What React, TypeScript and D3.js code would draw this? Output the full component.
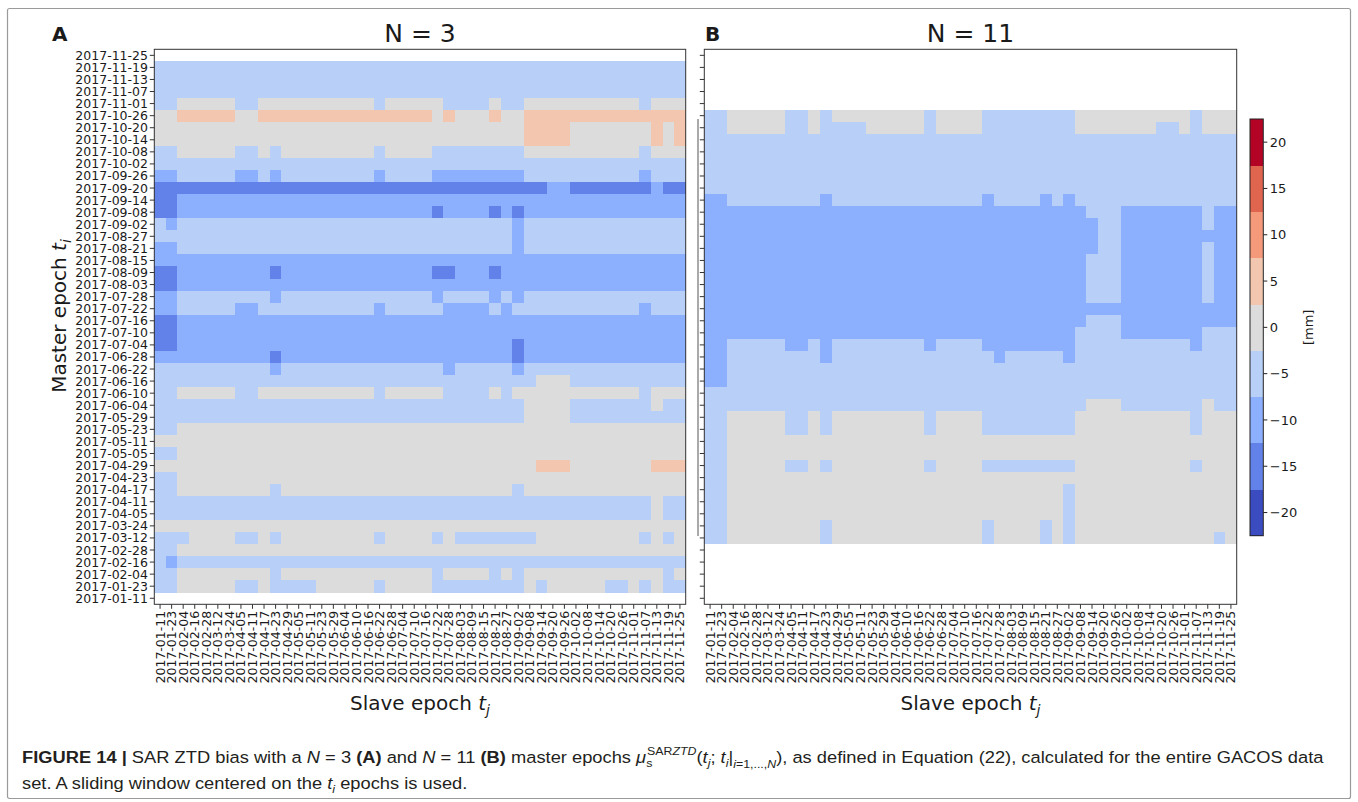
import React, { useLayoutEffect, useRef, useState } from "react";
import * as d3 from "d3";

// ---------------- DATA ----------------
const slaveEpochs = [
  "2017-01-11", "2017-01-23", "2017-02-04", "2017-02-16", "2017-02-28", "2017-03-12",
  "2017-03-24", "2017-04-05", "2017-04-11", "2017-04-17", "2017-04-23", "2017-04-29",
  "2017-05-05", "2017-05-11", "2017-05-23", "2017-05-29", "2017-06-04", "2017-06-10",
  "2017-06-16", "2017-06-22", "2017-06-28", "2017-07-04", "2017-07-10", "2017-07-16",
  "2017-07-22", "2017-07-28", "2017-08-03", "2017-08-09", "2017-08-15", "2017-08-21",
  "2017-08-27", "2017-09-02", "2017-09-08", "2017-09-14", "2017-09-20", "2017-09-26",
  "2017-10-02", "2017-10-08", "2017-10-14", "2017-10-20", "2017-10-26", "2017-11-01",
  "2017-11-07", "2017-11-13", "2017-11-19", "2017-11-25",
];
// master epochs, listed top row -> bottom row
const masterEpochs = [...slaveEpochs].reverse();

// cell codes -> bias value [mm] ('.' = no data)
const levelValues: Record<string, number | null> = {
  D: -15, M: -10, L: -5, G: 0, S: 5, ".": null,
};

// N = 3 : one string per master epoch (top 2017-11-25 -> bottom 2017-01-11), one char per slave epoch
const biasN3 = [
  ".......... .......... .......... .......... ......",
  "LLLLLLLLLL LLLLLLLLLL LLLLLLLLLL LLLLLLLLLL LLLLLL",
  "LLLLLLLLLL LLLLLLLLLL LLLLLLLLLL LLLLLLLLLL LLLLLL",
  "LLLLLLLLLL LLLLLLLLLL LLLLLLLLLL LLLLLLLLLL LLLLLL",
  "LL GGGGG LL GGGGGGGGGG L GGGGG LLLL G LL GGGGGGGGGG L GGG",
  "GG SSSSS GG SSSSSSSSSS SSSSS G S GGG S GG SSSSSSSSSS SSSS",
  "GGGGGGGGGG GGGGGGGGGG GGGGGGGGGG GG SSSS GGGGGGG S G S",
  "GGGGGGGGGG GGGGGGGGGG GGGGGGGGGG GG SSSS GGGGGGG S G S",
  "LL GGGGG LL G L GGGGGGGG L GGGG LLLLLLLL GGGGGGGGGG L GGG",
  "LLLLLLLLLL LLLLLLLLLL LLLLLLLLLL LLLLLLLLLL LLLLLL",
  "MM LLLLL MM L M LLLLLLLL M LLLL MMMMMMMM LLLLLLLLLL M LLL",
  "DDDDDDDDDD DDDDDDDDDD DDDDDDDDDD DDDD MM DDDDDDD M DD",
  "DD MMMMMMMMMM MMMMMMMMMM MMMMMMMMMM MMMMMMMMMM MMMM",
  "DD MMMMMMMMMM MMMMMMMMMM MM D MMMM D M D MMMMMMMMMM MMMM",
  "L M LLLLLLLLLL LLLLLLLLLL LLLLLLLLL M LLLLLLLLLL LLLL",
  "LLLLLLLLLL LLLLLLLLLL LLLLLLLLLL L M LLLLLLLLLL LLLL",
  "MM LLLLLLLLLL LLLLLLLLLL LLLLLLLLL M LLLLLLLLLL LLLL",
  "MMMMMMMMMM MMMMMMMMMM MMMMMMMMMM MMMMMMMMMM MMMMMM",
  "DD MMMMMMMM D MMMMMMMMMM MMM DD MMM D MMMMMMMMMM MMMMMM",
  "DD MMMMMMMMMM MMMMMMMMMM MMMMMMMMMM MMMMMMMMMM MMMM",
  "MM LLLLLLLL M LLLLLLLLLL LLL M LLLL M L M LLLLLLLLLL LLLL",
  "MM LLLLL MM LLLLLLLLLL M LLLLL MMMM L M LLLLLLLLLL L M LLL",
  "DD MMMMMMMMMM MMMMMMMMMM MMMMMMMMMM MMMMMMMMMM MMMM",
  "DD MMMMMMMMMM MMMMMMMMMM MMMMMMMMMM MMMMMMMMMM MMMM",
  "DD MMMMMMMMMM MMMMMMMMMM MMMMMMMMM D MMMMMMMMMM MMMM",
  "MMMMMMMMMM D MMMMMMMMMM MMMMMMMMMM D MMMMMMMMMM MMMM",
  "LLLLLLLLLL M LLLLLLLLLL LLLL M LLLLL M LLLLLLLLLL LLLL",
  "LLLLLLLLLL LLLLLLLLLL LLLLLLLLLL LLL GGG LLLLLLLLLL",
  "LL GGGGG LL GGGGGGGGGG L GGGGG LLLL G L GGGGGGGGGG G L GGG",
  "LLLLLLLLLL LLLLLLLLLL LLLLLLLLLL LL GGGG LLLLLLL G LL",
  "LLLLLLLLLL LLLLLLLLLL LLLLLLLLLL LL GGGG LLLLLLLLLL",
  "LL GGGGGGGGGG GGGGGGGGGG GGGGGGGGGG GGGGGGGGGG GGGG",
  "GGGGGGGGGG GGGGGGGGGG GGGGGGGGGG GGGGGGGGGG GGGGGG",
  "LL GGGGGGGGGG GGGGGGGGGG GGGGGGGGGG GGGGGGGGGG GGGG",
  "GGGGGGGGGG GGGGGGGGGG GGGGGGGGGG GGG SSS GGGGGGG SSS",
  "LL GGGGGGGGGG GGGGGGGGGG GGGGGGGGGG GGGGGGGGGG GGGG",
  "LL GGGGGGGG L GGGGGGGGGG GGGGGGGGGG L GGGGGGGGGG GGGG",
  "LLLLLLLLLL LLLLLLLLLL LLLLLLLLLL LLLLLLLLLL LLL G LL",
  "LLLLLLLLLL LLLLLLLLLL LLLLLLLLLL LLLLLLLLLL LLL G LL",
  "GGGGGGGGGG GGGGGGGGGG GGGGGGGGGG GGGGGGGGGG GGGGGG",
  "LLL GGGG LL G L GGGGGGGG L GGGG L G LLLLLLL GGGGGGGGG L G L G",
  "LL GGGGGGGGGG GGGGGGGGGG GGGGGGGGGG GGGGGGGGGG GGGG",
  "L M LLLLLLLLLL LLLLLLLLLL LLLLLLLLLL LLLLLLLLLL LLLL",
  "LL GGGGGGGG L GGGGGGGGGG GGG L GGGG L G L GGGGGGGGGG GG L G",
  "LL GGGGG LL G LLLL GGGGG L GGGG LLLLLLLL G L GGGGG LL G L G LL",
  ".......... .......... .......... .......... ......",
];

// N = 11
const biasN11 = [
  ".......... .......... .......... .......... ......",
  ".......... .......... .......... .......... ......",
  ".......... .......... .......... .......... ......",
  ".......... .......... .......... .......... ......",
  ".......... .......... .......... .......... ......",
  "LL GGGGG LL G L GGGGGGGG L GGGG LLLLLLLL GGGGGGGGGG L GGG",
  "LL GGGGG LL G LLLL GGGGG L GGGG LLLLLLLL GGGGGGG LL G L GGG",
  "LLLLLLLLLL LLLLLLLLLL LLLLLLLLLL LLLLLLLLLL LLLLLL",
  "LLLLLLLLLL LLLLLLLLLL LLLLLLLLLL LLLLLLLLLL LLLLLL",
  "LLLLLLLLLL LLLLLLLLLL LLLLLLLLLL LLLLLLLLLL LLLLLL",
  "LLLLLLLLLL LLLLLLLLLL LLLLLLLLLL LLLLLLLLLL LLLLLL",
  "LLLLLLLLLL LLLLLLLLLL LLLLLLLLLL LLLLLLLLLL LLLLLL",
  "MM LLLLLLLL M LLLLLLLLLL LLL M LLLL M L M LLLLLLLLLL LLLL",
  "MMMMMMMMMM MMMMMMMMMM MMMMMMMMMM MMM LLL MMMMMMM L MM",
  "MMMMMMMMMM MMMMMMMMMM MMMMMMMMMM MMMM LL MMMMMMM L MM",
  "MMMMMMMMMM MMMMMMMMMM MMMMMMMMMM MMMM LL MMMMMMMMMM",
  "MMMMMMMMMM MMMMMMMMMM MMMMMMMMMM MMMM LL MMMMMMM L MM",
  "MMMMMMMMMM MMMMMMMMMM MMMMMMMMMM MMM LLL MMMMMMM L MM",
  "MMMMMMMMMM MMMMMMMMMM MMMMMMMMMM MMM LLL MMMMMMM L MM",
  "MMMMMMMMMM MMMMMMMMMM MMMMMMMMMM MMM LLL MMMMMMM L MM",
  "MMMMMMMMMM MMMMMMMMMM MMMMMMMMMM MMM LLL MMMMMMM L MM",
  "MMMMMMMMMM MMMMMMMMMM MMMMMMMMMM MMMMMMMMMM MMMMMM",
  "MMMMMMMMMM MMMMMMMMMM MMMMMMMMMM MMM LLL MMMMMMMMMM",
  "MMMMMMMMMM MMMMMMMMMM MMMMMMMMMM MM LLLL MMMMMMM LLL",
  "MM LLLLL MM L M LLLLLLLL M LLLL MMMMMMMM LLLLLLLLLL M LLL",
  "MM LLLLLLLL M LLLLLLLLLL LLLL M LLLLL M LLLLLLLLLL LLLL",
  "MM LLLLLLLLLL LLLLLLLLLL LLLLLLLLLL LLLLLLLLLL LLLL",
  "MM LLLLLLLLLL LLLLLLLLLL LLLLLLLLLL LLLLLLLLLL LLLL",
  "LLLLLLLLLL LLLLLLLLLL LLLLLLLLLL LLLLLLLLLL LLLLLL",
  "LLLLLLLLLL LLLLLLLLLL LLLLLLLLLL LLL GGG LLLLLLL G LL",
  "LL GGGGG LL G L GGGGGGGG L GGGG LLLLLLLL GGGGGGGGGG L GGG",
  "LL GGGGG LL G L GGGGGGGG L GGGG LLLLLLLL GGGGGGGGGG L GGG",
  "LL GGGGGGGGGG GGGGGGGGGG GGGGGGGGGG GGGGGGGGGG GGGG",
  "LL GGGGGGGGGG GGGGGGGGGG GGGGGGGGGG GGGGGGGGGG GGGG",
  "LL GGGGG LL G L GGGGGGGG L GGGG LLLLLLLL GGGGGGGGGG L GGG",
  "LL GGGGGGGGGG GGGGGGGGGG GGGGGGGGGG GGGGGGGGGG GGGG",
  "LL GGGGGGGGGG GGGGGGGGGG GGGGGGGGG L GGGGGGGGGG GGGG",
  "LL GGGGGGGGGG GGGGGGGGGG GGGGGGGGG L GGGGGGGGGG GGGG",
  "LL GGGGGGGGGG GGGGGGGGGG GGGGGGGGG L GGGGGGGGGG GGGG",
  "LL GGGGGGGG L GGGGGGGGGG GGG L GGGG L G L GGGGGGGGGG GGGG",
  "LL GGGGGGGG L GGGGGGGGGG GGG L GGGG L G L GGGGGGGGGG GG L G",
  ".......... .......... .......... .......... ......",
  ".......... .......... .......... .......... ......",
  ".......... .......... .......... .......... ......",
  ".......... .......... .......... .......... ......",
  ".......... .......... .......... .......... ......",
];

const colorBounds = [-22.5, -17.5, -12.5, -7.5, -2.5, 2.5, 7.5, 12.5, 17.5, 22.5];
const colorbarColors = [
  "#3b4cc0", "#6282ea", "#8db0fe", "#b8cff8", "#dcdcdc",
  "#f3c6af", "#f4997a", "#e0654f", "#b40426",
];
const colorbarTicks = [-20, -15, -10, -5, 0, 5, 10, 15, 20];

// ---------------- LAYOUT ----------------
const W = 1358;
const H = 802;
const FONT = "'DejaVu Sans', Verdana, sans-serif";
const CAP_FONT = "'Liberation Sans Narrow', 'Liberation Sans', Arial, sans-serif";
const Y0 = 49.3;
const Y1 = 604.3;
const TXT = "#1a1a1a";
const TICK_FS = 12.5;

const color = d3
  .scaleThreshold<number, string>()
  .domain(colorBounds.slice(1, -1))
  .range(colorbarColors);

function parseRow(row: string): (number | null)[] {
  return row.replace(/ /g, "").split("").map((ch) => levelValues[ch] ?? null);
}

type PanelProps = {
  rows: string[];
  x0: number;
  x1: number;
  letter: string;
  letterX: number;
  title: string;
  showYLabels: boolean;
};

function Panel({ rows, x0, x1, letter, letterX, title, showYLabels }: PanelProps) {
  const x = d3.scaleBand<string>().domain(slaveEpochs).range([x0, x1]);
  const y = d3.scaleBand<string>().domain(masterEpochs).range([Y0, Y1]);
  const bw = x.bandwidth();
  const bh = y.bandwidth();
  const cx = (x0 + x1) / 2;
  const tick = 4.5;

  const cells: JSX.Element[] = [];
  rows.forEach((row, i) => {
    const vals = parseRow(row);
    vals.forEach((v, j) => {
      if (v === null || j >= slaveEpochs.length) return;
      cells.push(
        <rect
          key={`${i}-${j}`}
          x={x(slaveEpochs[j])}
          y={y(masterEpochs[i])}
          width={bw + 0.3}
          height={bh + 0.3}
          fill={color(v)}
        />
      );
    });
  });

  return (
    <g>
      <text x={letterX} y={41} fontFamily={FONT} fontWeight="bold" fontSize={20} fill={TXT}>
        {letter}
      </text>
      <text x={cx} y={42.3} fontFamily={FONT} fontSize={25} textAnchor="middle" fill={TXT}>
        {title}
      </text>
      <g shapeRendering="crispEdges">{cells}</g>
      <rect x={x0} y={Y0} width={x1 - x0} height={Y1 - Y0} fill="none" stroke="#333" strokeWidth={1} />
      {/* y ticks */}
      {masterEpochs.map((d) => {
        const yy = (y(d) as number) + bh / 2;
        return (
          <g key={d}>
            <line x1={x0 - tick} x2={x0} y1={yy} y2={yy} stroke="#333" strokeWidth={1} />
            {showYLabels && (
              <text x={x0 - tick - 1.8} y={yy} dy="0.36em" textAnchor="end" fontFamily={FONT} fontSize={TICK_FS} fill={TXT}>
                {d}
              </text>
            )}
          </g>
        );
      })}
      {/* x ticks */}
      {slaveEpochs.map((d) => {
        const xx = (x(d) as number) + bw / 2;
        return (
          <g key={d}>
            <line x1={xx} x2={xx} y1={Y1} y2={Y1 + tick} stroke="#333" strokeWidth={1} />
            <text
              transform={`translate(${xx},${Y1 + tick + 2}) rotate(-90)`}
              dy="0.36em"
              textAnchor="end"
              fontFamily={FONT}
              fontSize={TICK_FS}
              fill={TXT}
            >
              {d}
            </text>
          </g>
        );
      })}
      <text x={cx} y={710} textAnchor="middle" fontFamily={FONT} fontSize={20} fill={TXT}>
        Slave epoch <tspan fontStyle="italic">t</tspan>
        <tspan fontStyle="italic" fontSize={14} dy={5}>j</tspan>
      </text>
    </g>
  );
}

function Colorbar() {
  const cx0 = 1250;
  const cw = 13.3;
  const yb = d3.scaleLinear().domain([-22.5, 22.5]).range([535.7, 119]);
  return (
    <g>
      <g shapeRendering="crispEdges">
        {colorbarColors.map((c, i) => (
          <rect
            key={c}
            x={cx0}
            y={yb(colorBounds[i + 1])}
            width={cw}
            height={yb(colorBounds[i]) - yb(colorBounds[i + 1]) + 0.3}
            fill={c}
          />
        ))}
      </g>
      <rect x={cx0} y={yb(22.5)} width={cw} height={yb(-22.5) - yb(22.5)} fill="none" stroke="#222" strokeWidth={1} />
      {colorbarTicks.map((t) => (
        <g key={t}>
          <line x1={cx0 + cw} x2={cx0 + cw + 4} y1={yb(t)} y2={yb(t)} stroke="#222" strokeWidth={1} />
          <text x={cx0 + cw + 6.5} y={yb(t)} dy="0.36em" fontFamily={FONT} fontSize={13} fill={TXT}>
            {t < 0 ? `\u2212${Math.abs(t)}` : `${t}`}
          </text>
        </g>
      ))}
      <text transform={`translate(1313,${yb(0)}) rotate(-90)`} textAnchor="middle" fontFamily={FONT} fontSize={13} fill={TXT}>
        [mm]
      </text>
    </g>
  );
}

function Caption() {
  const ref = useRef<SVGTextElement>(null);
  const [scale, setScale] = useState(1);
  useLayoutEffect(() => {
    if (ref.current) {
      const w = ref.current.getComputedTextLength();
      if (w > 0) setScale(1308 / w);
    }
  }, []);
  const fs = 17;
  const sfs = 11.5;
  return (
    <g transform={`translate(22,0) scale(${scale},1)`} fontFamily={CAP_FONT} fontSize={fs} fill="#231f20">
      <text ref={ref} x={0} y={763}>
        <tspan fontWeight="bold">FIGURE 14 |</tspan>
        <tspan>{" SAR ZTD bias with a "}</tspan>
        <tspan fontStyle="italic">N</tspan>
        <tspan>{" = 3 "}</tspan>
        <tspan fontWeight="bold">(A)</tspan>
        <tspan>{" and "}</tspan>
        <tspan fontStyle="italic">N</tspan>
        <tspan>{" = 11 "}</tspan>
        <tspan fontWeight="bold">(B)</tspan>
        <tspan>{" master epochs "}</tspan>
        <tspan fontStyle="italic">μ</tspan>
        <tspan fontSize={sfs} dy={4}>s</tspan>
        <tspan fontSize={sfs} dx={-5} dy={-12}>SAR</tspan>
        <tspan fontSize={sfs} fontStyle="italic">ZTD</tspan>
        <tspan dy={8}>(</tspan>
        <tspan fontStyle="italic">t</tspan>
        <tspan fontSize={sfs} fontStyle="italic" dy={4}>j</tspan>
        <tspan dy={-4}>{"; "}</tspan>
        <tspan fontStyle="italic">t</tspan>
        <tspan fontSize={sfs} fontStyle="italic" dy={4}>i</tspan>
        <tspan dy={-4}>|</tspan>
        <tspan fontSize={sfs} fontStyle="italic" dy={5}>i</tspan>
        <tspan fontSize={sfs}>=1,...,</tspan>
        <tspan fontSize={sfs} fontStyle="italic">N</tspan>
        <tspan dy={-5}>{"), as defined in Equation (22), calculated for the entire GACOS data"}</tspan>
      </text>
      <text x={0} y={789}>
        <tspan>{"set. A sliding window centered on the "}</tspan>
        <tspan fontStyle="italic">t</tspan>
        <tspan fontSize={sfs} fontStyle="italic" dy={4}>i</tspan>
        <tspan dy={-4}>{" epochs is used."}</tspan>
      </text>
    </g>
  );
}

export default function App() {
  return (
    <svg
      width={W}
      height={H}
      viewBox={`0 0 ${W} ${H}`}
      style={{ position: "absolute", left: 0, top: 0, background: "#fff" }}
    >
      <rect x={0} y={0} width={W} height={H} fill="#fff" />
      <rect x={7.5} y={8.5} width={1343} height={790} fill="none" stroke="#9a9a9a" strokeWidth={1.2} rx={2} />
      <Panel rows={biasN3} x0={154.3} x1={685.7} letter="A" letterX={52} title="N = 3" showYLabels={true} />
      <Panel rows={biasN11} x0={704.3} x1={1236.7} letter="B" letterX={705} title="N = 11" showYLabels={false} />
      <line x1={698} x2={698} y1={119} y2={536} stroke="#555" strokeWidth={1} />
      <text transform="translate(66,316) rotate(-90)" textAnchor="middle" fontFamily={FONT} fontSize={20} fill={TXT}>
        Master epoch <tspan fontStyle="italic">t</tspan>
        <tspan fontStyle="italic" fontSize={14} dy={5}>i</tspan>
      </text>
      <Colorbar />
      <Caption />
    </svg>
  );
}
